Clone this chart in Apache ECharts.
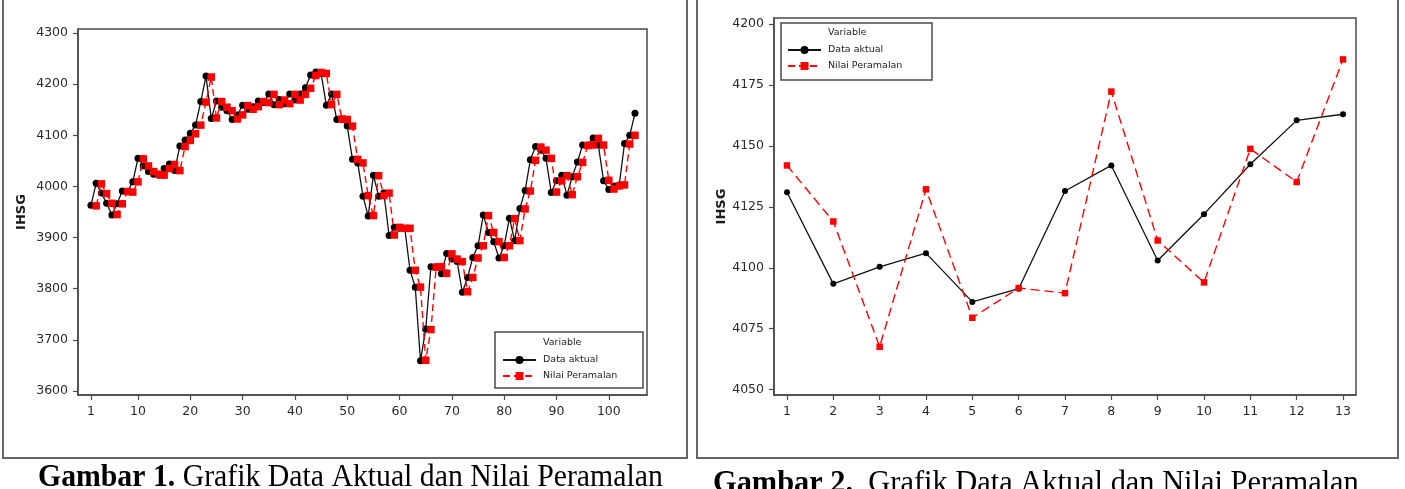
<!DOCTYPE html>
<html><head><meta charset="utf-8">
<script src="https://cdn.jsdelivr.net/npm/echarts@6/dist/echarts.min.js"></script>
<style>html,body{margin:0;padding:0;background:#fff;}#c{width:1405px;height:489px;}</style>
</head><body><div id="c"></div>
<script>
// ---- Chart 1 (Gambar 1) ----
const actual1 = [3963,4006,3987,3967,3944,3966,3991,3990,4009,4055,
  4040,4029,4024,4022,4035,4044,4031,4079,4091,4104,
  4120,4166,4216,4133,4167,4155,4148,4131,4140,4159,
  4151,4156,4167,4164,4181,4160,4170,4162,4181,4169,
  4181,4193,4218,4224,4221,4159,4181,4131,4131,4118,
  4053,4046,3981,3942,4022,3981,3987,3904,3920,3918,
  3918,3836,3803,3659,3721,3843,3843,3829,3869,3858,
  3853,3793,3822,3861,3884,3944,3910,3892,3860,3884,
  3938,3894,3957,3992,4052,4078,4071,4055,3988,4011,
  4022,3983,4019,4048,4081,4081,4095,4081,4011,3994,
  4001,4003,4084,4100,4143];
const forecast1 = [null,3962,4005,3986,3967,3945,3966,3990,3989,4009,
  4054,4040,4029,4024,4022,4035,4043,4031,4078,4090,
  4103,4120,4165,4214,4134,4166,4155,4148,4132,4140,
  4158,4151,4156,4166,4164,4180,4160,4169,4162,4180,
  4169,4180,4192,4217,4223,4221,4160,4180,4132,4131,
  4118,4053,4046,3982,3943,4021,3982,3987,3905,3920,
  3918,3918,3836,3803,3660,3720,3842,3843,3830,3868,
  3858,3853,3794,3822,3860,3884,3943,3910,3892,3861,
  3884,3937,3894,3956,3991,4051,4077,4071,4055,3989,
  4011,4021,3984,4019,4047,4080,4081,4094,4081,4012,
  3995,4001,4003,4083,4100];
const xTicks1 = [1,10,20,30,40,50,60,70,80,90,100];
const yTicks1 = [3600,3700,3800,3900,4000,4100,4200,4300];

// ---- Chart 2 (Gambar 2) ----
const actual2 = [4131,4093.4,4100.4,4106,4086,4091.4,4131.5,4142,4103,4122,4142.5,4160.5,4163];
const forecast2 = [4142,4119,4067.6,4132.2,4079.5,4091.7,4089.6,4172.3,4111.2,4094,4148.8,4135.2,4185.5];
const xTicks2 = [1,2,3,4,5,6,7,8,9,10,11,12,13];
const yTicks2 = [4050,4075,4100,4125,4150,4175,4200];

const seriesNames = ['Data aktual','Nilai Peramalan'];
const captions = ['Grafik Data Aktual dan Nilai Peramalan','Grafik Data Aktual dan Nilai Peramalan'];

const toPairs = arr => arr.map((v,i)=>[i+1, v==null ? null : v]);

const FONT = 'DejaVu Sans';
const AX = '#4a4a4a';
const plain = v => String(v);
function xAxis(idx, min, max, ticks){
  return {gridIndex: idx, type:'value', min, max, splitLine:{show:false},
    axisLine:{show:true, onZero:false, lineStyle:{color:AX, width:1.5}},
    axisTick:{show:true, inside:false, length:5, lineStyle:{color:AX, width:1.2}, customValues:ticks},
    axisLabel:{show:true, customValues:ticks, formatter:plain, margin:10, color:'#2a2a2a', fontFamily:FONT, fontSize:12.5}};
}
function yAxis(idx, min, max, ticks, gap){
  return {gridIndex: idx, type:'value', min, max, splitLine:{show:false},
    name:'IHSG', nameLocation:'middle', nameGap:gap, nameRotate:90,
    nameTextStyle:{fontFamily:FONT, fontWeight:'bold', fontSize:13, color:'#1a1a1a'},
    axisLine:{show:true, onZero:false, lineStyle:{color:AX, width:1.5}},
    axisTick:{show:true, inside:false, length:5, lineStyle:{color:AX, width:1.2}, customValues:ticks},
    axisLabel:{show:true, customValues:ticks, formatter:plain, margin:10, color:'#2a2a2a', fontFamily:FONT, fontSize:12.5}};
}
function actualSeries(idx, data, sym, w){
  return {name:seriesNames[0], type:'line', xAxisIndex:idx, yAxisIndex:idx, data:toPairs(data),
    symbol:'circle', symbolSize:sym, showAllSymbol:true, animation:false,
    lineStyle:{color:'#111', width:w}, itemStyle:{color:'#000'}, z:2};
}
function forecastSeries(idx, data, sym, dash){
  return {name:seriesNames[1], type:'line', xAxisIndex:idx, yAxisIndex:idx, data:toPairs(data),
    symbol:'rect', symbolSize:sym, showAllSymbol:true, animation:false, connectNulls:false,
    lineStyle:{color:'#ff0000', width:1.4, type:dash}, itemStyle:{color:'#ff0000'}, z:3};
}
function legendBlock(left, top){
  return {orient:'vertical', left, top, itemWidth:33, itemHeight:10, itemGap:6,
    padding:0, data:seriesNames, selectedMode:false,
    textStyle:{fontFamily:FONT, fontSize:9.5, color:'#222', padding:[0,0,0,2]}};
}

const chart = echarts.init(document.getElementById('c'), null, {renderer:'canvas'});
chart.setOption({
  animation:false,
  backgroundColor:'#ffffff',
  grid:[
    {left:78, top:29, width:569, height:366, show:true, borderColor:AX, borderWidth:1.5, backgroundColor:'transparent'},
    {left:774, top:18, width:582, height:377, show:true, borderColor:AX, borderWidth:1.5, backgroundColor:'transparent'}
  ],
  xAxis:[xAxis(0,-1.47,107.3,xTicks1), xAxis(1,0.72,13.28,xTicks2)],
  yAxis:[yAxis(0,3592,4308,yTicks1,50), yAxis(1,4047.8,4202.5,yTicks2,46)],
  legend:[legendBlock(502,355), legendBlock(787,45)],
  series:[
    actualSeries(0, actual1, 7, 1.3), forecastSeries(0, forecast1, 7.5, [7,4]),
    actualSeries(1, actual2, 6, 1.3), forecastSeries(1, forecast2, 6.5, [9,5])
  ],
  graphic:[
    {type:'rect', shape:{x:3, y:-5, width:684, height:463}, style:{fill:'none', stroke:'#666', lineWidth:2}, silent:true},
    {type:'rect', shape:{x:697, y:-5, width:701, height:463}, style:{fill:'none', stroke:'#666', lineWidth:2}, silent:true},
    {type:'rect', shape:{x:495, y:332, width:148, height:56}, style:{fill:'#fff', stroke:AX, lineWidth:1.5}, z:-1, silent:true},
    {type:'text', x:543, y:343, style:{text:'Variable', font:'9.5px "DejaVu Sans"', fill:'#222', verticalAlign:'middle'}, silent:true},
    {type:'rect', shape:{x:781, y:23, width:151, height:57}, style:{fill:'#fff', stroke:AX, lineWidth:1.5}, z:-1, silent:true},
    {type:'text', x:828, y:33, style:{text:'Variable', font:'9.5px "DejaVu Sans"', fill:'#222', verticalAlign:'middle'}, silent:true},
    {type:'text', x:38, y:462, scaleX:0.93, style:{text:'{b|Gambar 1.} '+captions[0], font:'32px "Liberation Serif"', fill:'#000', verticalAlign:'top',
      rich:{b:{fontWeight:'bold', fontFamily:'Liberation Serif', fontSize:32}}}, silent:true},
    {type:'text', x:713, y:468, scaleX:0.95, style:{text:'{b|Gambar 2.}  '+captions[1], font:'32px "Liberation Serif"', fill:'#000', verticalAlign:'top',
      rich:{b:{fontWeight:'bold', fontFamily:'Liberation Serif', fontSize:32}}}, silent:true}
  ]
});
</script></body></html>
